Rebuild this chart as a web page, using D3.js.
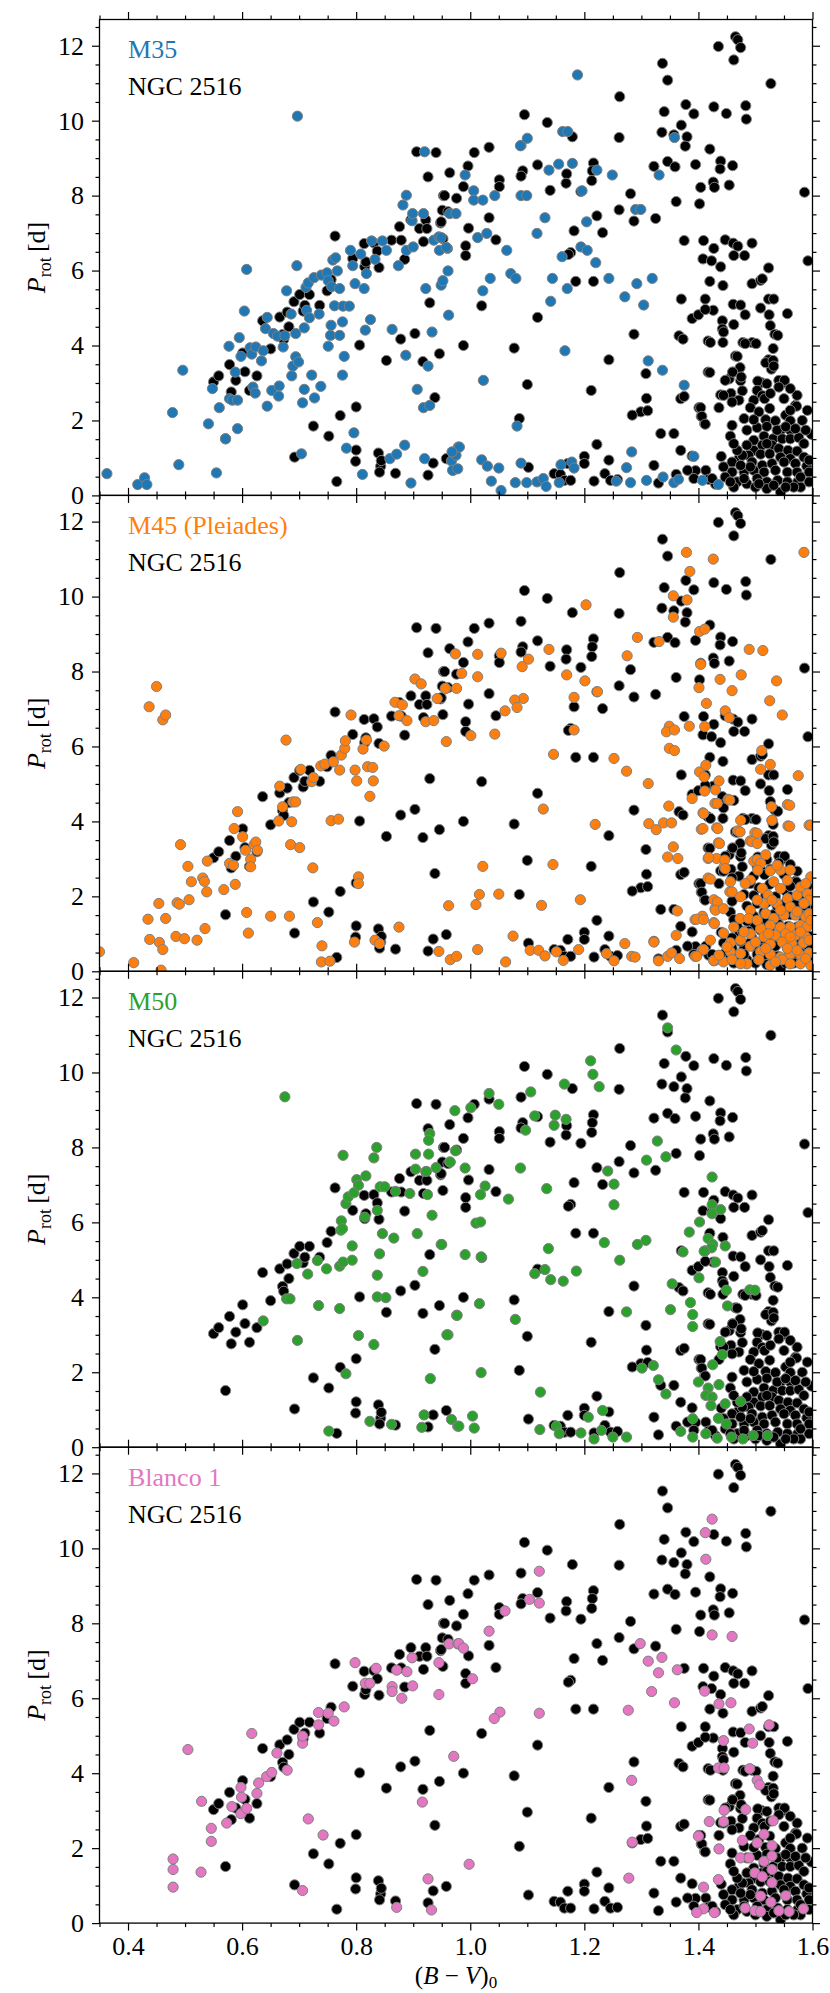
<!DOCTYPE html>
<html>
<head>
<meta charset="utf-8">
<script src="https://cdn.jsdelivr.net/npm/d3@7"></script>
<style>
  body { margin: 0; background: #fff; }
  text { font-family: "Liberation Serif", "DejaVu Serif", serif; }
</style>
</head>
<body>
<div id="chart"></div>
<script>
// Rotation periods vs colour, NGC 2516 compared with four other clusters

const bvTicks = [0.4, 0.6, 0.8, 1.0, 1.2, 1.4, 1.6];
const pTicks = [0, 2, 4, 6, 8, 10, 12];

// NGC 2516: [(B-V)0, Prot]
const ngc2516 = [
  [0.55,3.03],[0.559,3.19],[0.571,1.51],[0.578,3.49],[0.581,2.76],[0.589,3.07],[0.601,3.8],[0.605,3.3],[0.613,2.8],[0.626,3.19],
  [0.636,4.66],[0.65,3.91],[0.666,4.76],[0.671,4.29],[0.673,4.16],[0.682,4.5],[0.679,4.89],[0.692,1.02],[0.691,5.17],[0.701,5.36],
  [0.707,4.92],[0.71,5.07],[0.718,5.36],[0.725,1.85],[0.736,5.07],[0.749,5.46],[0.752,1.58],[0.756,5.76],[0.763,6.92],[0.766,0.37],
  [0.772,2.13],[0.794,6.32],[0.8,2.36],[0.8,1.21],[0.799,0.91],[0.806,4.01],[0.814,6.72],[0.815,6.1],[0.817,6.23],[0.831,6.74],
  [0.837,6.52],[0.84,6.08],[0.839,1.13],[0.843,0.78],[0.841,0.62],[0.844,0.93],[0.853,3.6],[0.862,6.81],[0.869,0.59],[0.876,7.17],
  [0.878,4.17],[0.885,6.3],[0.879,6.81],[0.896,7.35],[0.906,9.17],[0.903,4.32],[0.911,7.12],[0.917,3.57],[0.918,6.77],[0.922,7.35],
  [0.924,7.12],[0.926,8.5],[0.938,2.61],[0.926,0.54],[0.935,0.86],[0.929,5.14],[0.94,9.15],[0.946,3.78],[0.948,7.27],[0.952,6.85],
  [0.953,8.0],[0.958,0.98],[0.964,8.61],[0.951,7.61],[0.961,7.57],[0.976,7.93],
  [1.007,9.15],[0.996,8.79],[0.988,8.24],[0.955,8.0],[0.949,7.3],[0.997,7.13],[0.992,6.66],[0.992,6.4],[0.988,4.0],[1.033,9.29],
  [1.033,7.41],[1.045,6.82],[1.051,8.42],[1.051,8.24],[1.02,5.06],[1.089,9.34],[1.095,10.16],[1.092,8.66],[1.089,8.52],[1.135,9.95],
  [1.14,8.14],[1.118,8.82],[1.118,4.75],[1.1,2.96],[1.077,3.93],[1.086,2.05],[1.102,0.75],[1.179,9.57],[1.169,8.58],[1.168,8.33],
  [1.194,8.11],[1.182,7.06],[1.176,6.48],[1.172,6.43],[1.185,5.71],[1.216,8.87],[1.214,8.66],[1.213,8.4],[1.216,5.71],[1.212,2.8],
  [1.222,1.36],[1.262,10.64],[1.261,9.55],[1.261,7.62],[1.281,8.05],[1.222,7.46],[1.232,7.01],[1.243,3.62],[1.287,4.3],[1.308,3.25],
  [1.309,2.59],[1.299,2.23],[1.311,2.26],[1.284,2.14],[1.322,8.78],[1.325,7.39],[1.287,7.32],[1.337,11.53],[1.346,11.08],[1.34,10.24],
  [1.336,9.69],[1.357,9.62],[1.37,9.88],[1.378,10.43],[1.392,10.18],[1.38,9.57],[1.377,9.32],[1.346,8.91],[1.359,8.77],[1.395,8.83],
  [1.42,9.24],[1.361,7.84],[1.402,7.78],[1.404,8.22],[1.426,8.36],[1.428,8.22],[1.427,10.37],[1.435,11.98],[1.465,12.24],[1.469,12.16],
  [1.474,11.95],[1.462,11.62],[1.449,10.19],[1.483,10.4],[1.484,10.04],[1.527,10.99],[1.439,8.92],[1.438,8.71],[1.46,8.8],[1.454,8.28],
  [1.586,8.09],[1.592,6.26],
  [1.334,1.65],[1.357,1.65],[1.322,0.8],[1.33,0.33],[1.361,0.56],[1.369,1.2],[1.369,2.58],[1.375,2.64],[1.401,2.34],[1.405,2.11],
  [1.411,1.91],[1.389,1.05],[1.395,0.66],[1.413,0.67],[1.147,0.58],[1.158,0.56],[1.165,0.4],[1.176,0.4],[1.171,0.85],[1.2,1.04],
  [1.2,0.85],[1.217,0.38],[1.236,0.58],[1.243,0.94],[1.246,0.4],[1.258,0.42],[1.381,0.67],[1.418,0.43],[1.43,0.3],
  [1.375,6.8],[1.409,6.8],[1.427,6.59],[1.447,6.82],[1.461,6.73],[1.469,6.65],[1.481,6.4],[1.494,6.73],[1.408,6.31],[1.423,6.26],
  [1.439,6.1],[1.462,6.4],[1.443,5.6],[1.42,5.71],[1.494,5.65],[1.509,5.74],[1.512,5.78],[1.523,6.07],[1.37,5.24],[1.412,5.24],
  [1.426,4.94],[1.461,5.1],[1.474,5.08],[1.389,4.72],[1.4,4.82],[1.412,4.96],[1.442,4.66],[1.462,4.56],[1.482,4.82],[1.509,5.0],
  [1.523,5.24],[1.532,5.24],[1.556,4.85],[1.524,4.82],[1.526,4.53],[1.534,4.3],[1.366,4.26],[1.373,4.17],[1.417,4.12],[1.442,4.44],
  [1.465,3.72],[1.478,4.08],[1.494,4.08],[1.523,3.62],[1.528,3.37],[1.417,3.29],[1.46,3.29],[1.454,3.11],[1.439,2.68],[1.474,3.06],
  [1.51,3.01],[1.55,3.01],[1.57,2.4],
  [1.444,4.36],[1.539,4.27],[1.421,4.08],[1.443,4.08],[1.482,4.05],[1.501,4.05],[1.531,3.92],[1.468,3.71],[1.518,3.54],[1.531,3.6],
  [1.473,3.41],[1.42,3.28],[1.532,3.45],[1.46,3.29],[1.475,3.16],[1.447,3.07],[1.504,3.05],[1.52,2.98],[1.541,3.07],[1.551,3.07],
  [1.541,2.89],[1.477,2.79],[1.457,2.72],[1.503,2.8],[1.512,2.66],[1.444,2.67],[1.471,2.54],[1.436,2.34],[1.459,2.49],[1.497,2.54],
  [1.516,2.58],[1.491,2.34],[1.506,2.23],[1.525,2.32],[1.404,2.34],[1.572,2.38],[1.406,2.11],[1.412,1.9],[1.459,1.87],[1.456,1.58],
  [1.553,2.14],[1.518,2.02],[1.535,1.99],[1.561,1.99],[1.503,1.81],[1.52,1.84],[1.544,1.74],[1.561,1.74],[1.598,1.63],[1.497,1.47],
  [1.515,1.58],[1.531,1.51],[1.547,1.51],[1.561,1.51],[1.576,1.54],[1.497,1.2],[1.512,1.34],[1.529,1.34],[1.541,1.25],[1.557,1.2],
  [1.573,1.18],[1.488,1.07],[1.509,1.1],[1.525,1.11],[1.544,1.02],[1.561,0.98],[1.585,1.02],[1.44,1.04],[1.471,0.98],[1.477,1.07],
  [1.459,0.89],[1.444,0.76],[1.494,0.89],[1.512,0.8],[1.529,0.85],[1.55,0.89],[1.57,0.85],[1.59,0.78],[1.459,0.62],[1.48,0.62],
  [1.497,0.67],[1.515,0.62],[1.535,0.67],[1.556,0.62],[1.573,0.62],[1.594,0.62],[1.447,0.49],[1.468,0.36],[1.485,0.31],[1.503,0.45],
  [1.52,0.36],[1.539,0.4],[1.556,0.36],[1.574,0.36],[1.594,0.36],[1.52,0.18],[1.544,0.09],[1.392,0.45],[1.424,0.45],[1.462,0.22],
  [1.5,0.22],[1.579,0.22],
  [1.485,1.74],[1.48,2.05],[1.485,1.34],[1.497,2.02],[1.526,2.72],[1.55,2.58],[1.561,2.27],[1.582,2.0],[1.585,1.38],[1.594,0.94],
  [1.579,0.49],[1.567,0.22],[1.553,0.22],[1.532,0.27],[1.506,0.31],[1.48,0.45],[1.456,0.36],[1.491,0.76],[1.474,0.8],[1.468,1.2],
  [1.462,1.38],[1.52,1.38],[1.538,1.74],[1.553,1.83],[1.57,1.78],[1.588,1.74],[1.591,2.27],[1.573,2.67],[1.561,2.85]
];

const m35 = [
  [0.363,0.58],[0.417,0.29],[0.429,0.47],[0.433,0.29],[0.478,2.21],[0.489,0.82],[0.496,3.34],[0.541,1.91],[0.548,2.85],[0.555,0.6],
  [0.56,2.34],[0.571,1.51],[0.577,3.98],[0.578,2.58],[0.583,2.54],[0.588,3.29],[0.592,2.54],[0.592,1.78],[0.595,4.21],[0.598,3.71],
  [0.604,4.92],[0.608,6.03],[0.614,3.94],[0.617,3.77],[0.619,2.89],[0.623,2.73],[0.624,3.96],[0.634,3.59],[0.637,3.86],[0.644,4.75],
  [0.641,4.45],[0.644,2.38],[0.652,2.8],[0.655,4.32],[0.662,4.25],[0.665,2.92],[0.664,2.65],[0.672,3.96],[0.675,4.26],[0.678,5.46],
  [0.686,4.84],[0.687,3.19],[0.689,3.45],[0.694,4.32],[0.694,3.7],[0.696,6.13],[0.697,10.12],[0.699,3.56],[0.704,1.11],[0.706,2.47],
  [0.709,2.83],[0.709,4.47],[0.712,5.55],[0.713,4.94],[0.716,5.67],[0.718,4.74],[0.722,3.21],[0.726,5.81],[0.727,2.6],[0.735,4.84],
  [0.738,2.91],[0.739,5.88],[0.749,5.94],[0.751,3.98],[0.751,5.73],[0.755,4.27],[0.756,4.54],[0.757,5.57],[0.759,6.28],[0.762,5.06],
  [0.764,6.34],[0.767,5.99],[0.771,4.27],[0.771,5.52],[0.776,3.21],[0.776,4.63],[0.777,5.05],[0.779,3.71],[0.783,1.26],[0.788,5.05],
  [0.79,6.54],[0.794,6.13],[0.796,1.67],[0.798,5.65],[0.808,6.44],[0.811,0.56],[0.814,5.52],[0.816,4.41],[0.818,5.92],[0.825,4.69],
  [0.827,6.79],[0.833,6.3],[0.846,6.79],[0.853,6.54],[0.859,0.98],[0.863,4.43],[0.871,1.1],[0.874,6.13],[0.882,7.75],[0.885,1.34],
  [0.888,8.01],[0.888,6.54],[0.887,3.74],[0.896,0.33],[0.898,7.33],[0.899,7.52],[0.9,6.63],[0.907,2.83],[0.918,7.52],[0.92,9.17],
  [0.92,0.98],[0.918,2.34],[0.922,5.52],[0.926,3.45],[0.929,2.4],[0.933,4.36],[0.936,6.81],[0.945,6.9],[0.946,6.54],[0.949,5.61],
  [0.952,5.73],[0.96,6.59],[0.961,5.99],[0.962,4.81],[0.964,7.52],[0.975,7.52],[0.967,0.92],[0.97,0.67],[0.973,1.16],[0.979,1.29],
  [0.975,1.07],
  [1.188,11.22],[1.358,9.55],[1.162,9.71],[1.171,9.71],[1.1,9.53],[1.088,9.33],[0.991,8.55],[1.138,8.68],[1.155,8.84],[1.179,8.86],
  [1.222,8.68],[1.249,8.55],[1.331,8.55],[1.006,8.13],[1.006,7.88],[1.022,7.88],[1.043,8.0],[1.089,8.0],[1.099,8.0],[1.196,8.13],
  [1.29,7.63],[1.299,7.63],[1.131,7.41],[1.204,7.3],[1.117,6.99],[1.013,6.88],[1.029,6.99],[1.064,6.54],[0.949,6.88],[0.958,6.62],
  [1.161,6.37],[1.194,6.63],[1.205,6.54],[1.22,6.21],[1.071,5.92],[1.08,5.79],[1.035,5.79],[1.022,5.46],[1.144,5.79],[1.17,5.52],
  [1.141,5.18],[1.243,5.79],[1.292,5.65],[1.319,5.79],[1.271,5.3],[1.304,5.08],[1.166,3.86],[1.312,3.59],[1.337,3.34],[1.375,2.94],
  [1.023,3.07],[1.082,1.85],[1.283,1.16],[1.392,1.04],[0.981,1.29],[0.968,1.16],[0.969,0.67],[0.978,0.71],[1.02,0.95],[1.03,0.78],
  [1.05,0.73],[1.037,0.38],[1.054,0.13],[1.079,0.34],[1.099,0.34],[1.117,0.36],[1.128,0.45],[1.133,0.24],[1.089,0.86],[1.159,0.82],
  [1.156,0.34],[1.178,0.89],[1.182,0.73],[1.256,0.38],[1.274,0.74],[1.281,0.34],[1.309,0.4],[1.338,0.49],[1.357,0.34],[1.365,0.43],
  [1.407,0.4],[1.435,0.29]
];

const m45 = [
  [0.35,0.52],[0.41,0.23],[0.435,1.39],[0.437,7.06],[0.438,0.85],[0.45,7.6],[0.454,1.81],[0.455,0.77],[0.458,0.03],[0.461,0.58],
  [0.461,6.71],[0.466,6.84],[0.466,1.41],[0.484,0.93],[0.486,1.83],[0.49,1.79],[0.492,3.38],[0.499,0.87],[0.505,2.8],[0.507,1.91],
  [0.511,2.39],[0.521,0.83],[0.531,2.49],[0.534,2.4],[0.535,1.14],[0.538,2.12],[0.539,2.94],[0.568,2.18],[0.578,2.88],[0.585,2.83],
  [0.586,3.81],[0.588,2.32],[0.592,4.26],[0.601,3.59],[0.606,3.23],[0.608,1.57],[0.611,1.02],[0.615,2.99],[0.615,2.79],[0.621,3.38],
  [0.624,3.45],[0.627,3.23],[0.65,1.47],[0.664,4.01],[0.666,4.94],[0.671,4.39],[0.677,6.17],[0.683,1.47],[0.685,3.38],[0.687,3.99],
  [0.689,4.52],[0.694,4.52],[0.701,3.3],[0.703,5.39],[0.722,5.06],[0.724,2.76],[0.725,5.17],[0.732,1.3],[0.738,5.48],[0.74,0.68],
  [0.739,0.25],[0.745,5.53],[0.754,0.27],[0.756,4.02],[0.76,5.59],[0.769,4.06],[0.771,5.37],[0.774,5.77],[0.78,5.95],[0.781,6.15],
  [0.791,6.84],[0.797,0.78],[0.798,5.37],[0.801,5.08],[0.804,2.52],[0.804,2.34],[0.812,5.93],[0.818,6.17],[0.82,5.46],[0.824,4.67],
  [0.829,5.44],[0.83,5.08],[0.833,0.83],[0.841,0.74],[0.849,6.01],[0.868,7.18],[0.875,6.82],[0.875,1.18],[0.881,7.11],[0.889,6.69],
  [0.903,7.8],[0.914,7.67],[0.922,6.66],[0.936,6.69],[0.942,7.28],[0.945,0.53],[0.958,6.13],[0.962,1.75],[0.957,7.55],[0.974,8.47],
  [0.976,7.55],[0.965,0.31],[0.976,0.4],
  [1.585,11.18],[1.379,11.18],[1.426,11.0],[1.385,10.67],[1.356,10.02],[1.38,9.91],[1.356,9.45],[1.203,9.78],[1.402,9.07],[1.411,9.13],
  [1.293,8.91],[1.331,8.8],[1.489,8.59],[1.513,8.56],[1.013,8.46],[1.054,8.49],[1.138,8.59],[1.275,8.42],[1.102,8.33],[1.091,8.13],
  [1.404,8.19],[0.985,7.95],[1.013,7.86],[1.169,7.91],[1.201,7.75],[1.438,7.79],[1.475,7.91],[1.537,7.75],[0.956,7.55],[1.401,7.57],
  [1.459,7.49],[1.223,7.46],[1.182,7.31],[1.093,7.28],[1.078,7.24],[1.082,7.04],[1.061,6.95],[1.525,7.22],[1.414,7.15],[1.447,6.95],
  [1.454,6.77],[1.547,6.84],[1.043,6.33],[1.001,6.29],[1.182,6.44],[1.349,6.54],[1.344,6.39],[1.358,6.44],[1.384,6.54],[1.411,6.53],
  [1.349,5.95],[1.358,5.89],[1.146,5.79],[1.252,5.68],[1.274,5.34],[1.312,5.01],[1.575,5.22],[1.511,5.89],[1.509,5.39],[1.526,5.52],
  [1.402,5.32],[1.413,5.5],[1.41,5.19],[1.436,5.08],[1.411,4.81],[1.43,4.84],[1.452,4.59],[1.389,4.61],[1.429,4.48],[1.556,4.45],
  [1.348,4.41],[1.408,4.23],[1.128,4.33],[1.529,4.03],[1.528,4.39],[1.557,3.88],[1.594,3.9],[1.219,3.92],[1.313,3.94],[1.326,3.78],
  [1.339,3.96],[1.353,3.96],[1.405,3.79],[1.432,3.83],[1.469,3.75],[1.499,3.7],[1.491,3.48],[1.435,3.43],[1.356,3.32],[1.346,3.05],
  [1.364,3.01],[1.417,3.01],[1.022,2.8],[1.145,2.85],[1.445,2.79],[1.417,2.49],[1.497,2.94],[1.016,2.05],[1.05,2.06],[1.01,1.78],
  [1.125,1.76],[1.193,1.91],[1.455,2.12],[1.363,1.61],[1.394,1.38],[1.407,1.47],[1.427,1.3],[1.427,1.91],[1.429,1.67],[1.361,0.96],
  [1.075,0.94],[1.013,0.58],[1.062,0.25],[1.105,0.56],[1.12,0.56],[1.131,0.41],[1.151,0.52],[1.163,0.29],[1.19,0.58],[1.239,0.47],
  [1.252,0.28],[1.271,0.74],[1.283,0.4],[1.289,0.38],[1.322,0.78],[1.33,0.28],[1.346,0.4],[1.353,0.49],[1.367,0.34],[1.394,0.4],
  [1.406,0.56],[1.427,0.28],
  [1.433,4.48],[1.455,4.57],[1.56,4.43],[1.409,4.21],[1.529,4.03],[1.56,3.87],[1.597,3.9],[1.408,3.81],[1.434,3.81],[1.473,3.72],
  [1.503,3.68],[1.494,3.46],[1.437,3.41],[1.432,3.01],[1.418,3.04],[1.446,2.97],[1.503,2.98],[1.509,2.88],[1.447,2.74],[1.526,2.68],
  [1.544,2.7],[1.504,2.7],[1.421,2.46],[1.491,2.43],[1.532,2.39],[1.556,2.43],[1.459,2.12],[1.482,2.34],[1.512,2.21],[1.544,2.21],
  [1.522,2.03],[1.556,1.94],[1.573,2.03],[1.591,2.07],[1.594,1.9],[1.433,1.85],[1.43,1.63],[1.444,1.67],[1.491,1.63],[1.515,1.81],
  [1.538,1.81],[1.561,1.72],[1.585,1.81],[1.397,1.39],[1.409,1.38],[1.473,1.41],[1.488,1.41],[1.518,1.54],[1.532,1.41],[1.55,1.5],
  [1.57,1.5],[1.588,1.45],[1.428,1.27],[1.509,1.14],[1.526,1.23],[1.544,1.18],[1.561,1.18],[1.579,1.23],[1.591,1.2],[1.444,1.02],
  [1.491,1.0],[1.515,0.92],[1.535,0.96],[1.553,1.0],[1.57,0.96],[1.588,0.92],[1.456,0.76],[1.474,0.83],[1.491,0.67],[1.526,0.72],
  [1.547,0.78],[1.564,0.74],[1.584,0.76],[1.409,0.58],[1.456,0.52],[1.474,0.47],[1.509,0.52],[1.526,0.45],[1.544,0.38],[1.561,0.45],
  [1.579,0.43],[1.594,0.49],[1.397,0.4],[1.427,0.29],[1.444,0.25],[1.485,0.2],[1.526,0.16],[1.547,0.31],[1.579,0.2],[1.597,0.16],
  [1.506,0.31],[1.459,0.31],[1.594,1.54],[1.594,0.83],
  [1.474,4.03],[1.503,3.41],[1.518,3.11],[1.538,2.83],[1.561,2.7],[1.579,2.25],[1.456,2.39],[1.474,1.99],[1.503,1.9],[1.529,1.9],
  [1.544,1.63],[1.573,1.59],[1.503,1.36],[1.523,1.0],[1.561,0.92],[1.48,1.05],[1.462,1.18],[1.45,0.65],[1.5,0.78],[1.518,0.61],
  [1.556,0.61],[1.573,0.56],[1.588,0.34],[1.535,0.25],[1.561,0.2],[1.474,0.2],[1.421,0.83],[1.436,0.43],[1.597,2.52],[1.588,2.34],
  [1.597,1.36],[1.579,1.05]
];

const m50 = [
  [0.675,9.35],[0.637,3.37],[0.678,3.96],[0.684,3.96],[0.696,4.9],[0.697,2.85],[0.715,4.62],[0.732,4.98],[0.734,3.78],[0.748,4.76],
  [0.752,0.43],[0.771,4.83],[0.777,4.94],[0.771,3.7],[0.773,5.79],[0.774,6.04],[0.776,5.83],[0.777,7.79],[0.782,6.5],[0.782,1.96],
  [0.786,6.68],[0.793,4.99],[0.793,5.37],[0.796,6.79],[0.801,7.14],[0.804,6.99],[0.804,2.98],[0.815,6.14],[0.817,7.24],[0.824,0.69],
  [0.831,7.72],[0.831,2.74],[0.836,8.0],[0.837,6.32],[0.837,4.59],[0.837,4.01],[0.842,6.95],[0.846,5.7],[0.841,5.16],[0.85,6.95],
  [0.852,3.99],[0.862,0.61],[0.866,5.58],[0.869,6.83],[0.894,6.77],[0.904,7.82],[0.904,7.42],[0.907,5.7],[0.915,0.53],[0.917,4.69],
  [0.919,0.86],[0.923,7.36],[0.925,6.74],[0.927,7.82],[0.929,8.37],[0.927,8.19],[0.93,1.83],[0.933,6.19],[0.94,7.46],[0.949,5.41],
  [0.961,3.0],[0.964,7.61],[0.967,0.74],[0.973,8.98],[0.974,7.91],[0.976,3.52],[0.978,0.56],
  [1.346,11.19],[1.361,10.6],[1.211,10.31],[1.215,9.95],[1.226,9.62],[1.165,9.69],[1.033,9.44],[1.106,9.48],[1.05,9.15],[1.001,9.06],
  [1.113,8.84],[1.149,8.86],[1.147,8.59],[1.168,8.75],[1.097,8.46],[1.328,8.17],[0.965,7.61],[1.309,7.66],[1.343,7.75],[1.088,7.45],
  [0.991,7.45],[1.241,7.37],[1.424,7.21],[1.252,7.02],[1.134,6.9],[1.026,6.97],[1.018,6.74],[1.067,6.62],[1.252,6.47],[1.424,6.47],
  [1.424,6.23],[1.439,6.34],[1.01,5.98],[1.018,6.01],[1.402,6.01],[1.384,5.74],[0.95,5.41],[0.991,5.14],[1.019,5.08],[1.137,5.3],
  [1.235,5.46],[1.293,5.41],[1.308,5.52],[1.417,5.57],[1.425,5.41],[1.423,5.32],[1.447,5.37],[1.373,5.21],[1.41,5.23],[1.43,4.94],
  [1.262,4.99],[1.113,4.63],[1.131,4.74],[1.141,4.47],[1.163,4.43],[1.186,4.7],[1.401,4.52],[1.354,4.36],[1.449,4.19],[1.49,4.2],
  [1.499,4.19],[1.451,3.77],[1.386,3.86],[1.016,3.83],[1.351,3.67],[1.39,3.54],[1.274,3.61],[0.977,3.52],[1.079,3.41],[1.39,3.22],
  [0.959,3.0],[1.438,2.82],[1.442,2.47],[1.321,2.18],[1.301,2.11],[1.019,1.99],[1.425,2.2],[1.33,1.8],[1.343,1.42],[1.4,1.74],
  [1.417,1.58],[1.436,1.67],[1.413,1.38],[1.424,1.34],[1.422,1.11],[1.447,1.16],[1.474,1.22],[1.123,1.47],[1.232,0.98],[1.207,0.8],
  [0.98,0.56],[1.004,0.83],[1.007,0.51],[1.122,0.47],[1.151,0.56],[1.156,0.36],[1.194,0.38],[1.217,0.22],[1.23,0.45],[1.25,0.27],
  [1.274,0.27],[1.369,0.42],[1.39,0.27],[1.39,0.76],[1.413,0.36],[1.433,0.24],[1.435,0.77],[1.449,0.62],[1.458,0.27],[1.478,0.22],
  [1.496,0.31],[1.521,0.31]
];

const blanco1 = [
  [0.479,1.71],[0.479,1.43],[0.479,0.96],[0.505,4.63],[0.528,1.36],[0.529,3.25],[0.546,2.53],[0.546,2.18],[0.573,2.67],[0.582,3.11],
  [0.598,3.62],[0.599,3.36],[0.598,2.92],[0.608,3.06],[0.617,5.06],[0.626,3.46],[0.629,3.74],[0.643,3.91],[0.652,4.02],[0.661,4.54],
  [0.679,4.08],[0.706,4.8],[0.706,4.99],[0.706,0.87],[0.716,2.78],[0.734,5.62],[0.734,5.29],[0.742,2.35],[0.751,5.6],[0.761,5.39],
  [0.779,5.77],[0.798,6.95],[0.816,6.4],[0.824,6.4],[0.835,6.8],[0.863,6.31],[0.863,6.18],[0.871,6.75],[0.871,0.42],[0.88,6.0],
  [0.889,6.71],[0.898,7.08],[0.899,6.33],[0.916,3.23],[0.926,1.18],[0.932,0.35],[0.945,6.95],[0.945,6.1],[0.963,7.45],[0.978,7.45],
  [0.971,4.45],
  [1.424,10.78],[1.412,10.42],[1.413,9.71],[1.121,9.39],[1.104,8.64],[1.121,8.54],[1.061,8.33],[1.033,7.79],[1.424,7.69],[1.459,7.65],
  [0.98,7.46],[0.988,7.34],[1.298,7.46],[1.312,6.99],[1.336,7.09],[1.33,6.68],[1.363,6.76],[1.318,6.18],[1.358,5.88],[1.411,6.19],
  [1.436,5.85],[1.457,5.88],[1.004,6.52],[1.277,5.68],[1.121,5.6],[1.052,5.63],[1.042,5.46],[1.489,5.18],[1.524,5.29],[1.444,4.87],
  [1.495,4.8],[1.435,4.14],[1.445,4.14],[1.49,4.12],[1.503,3.81],[1.507,3.69],[1.283,3.81],[1.445,3.01],[1.483,3.03],[1.419,2.71],
  [1.444,2.71],[1.531,2.73],[1.4,2.32],[1.515,2.37],[1.436,1.98],[1.477,2.21],[1.503,2.14],[1.529,2.07],[1.284,2.16],[1.474,1.74],
  [1.489,1.74],[1.515,1.65],[1.529,1.79],[1.499,1.34],[1.512,1.24],[1.529,1.43],[1.529,1.08],[0.998,1.57],[1.278,1.2],[1.435,1.16],
  [1.409,0.96],[1.509,0.72],[1.553,0.73],[1.527,0.56],[1.409,0.38],[1.397,0.28],[1.428,0.28],[1.482,0.4],[1.499,0.33],[1.509,0.31],
  [1.541,0.33],[1.559,0.31],[1.584,0.38]
];

const clusterNames = ['M35', 'M45 (Pleiades)', 'M50', 'Blanco 1'];
const clusterColors = ['#1f77b4', '#ff7f0e', '#2ca02c', '#e377c2'];
const clusterData = [m35, m45, m50, blanco1];

// layout
const width = 830, height = 1993;
const left = 99.5, right = 812.5;
const firstTop = 19.5, panelH = 475.9;
const markerR = 5.1;

const svg = d3.select('#chart').append('svg')
    .attr('width', width)
    .attr('height', height);

const x = d3.scaleLinear().domain([0.35, 1.6]).range([left, right]);
const xMinor = d3.range(0.35, 1.6001, 0.05).map(v => +v.toFixed(2)).filter(v => !bvTicks.includes(v));
const yMinor = d3.range(0, 12.51, 0.5).filter(v => !pTicks.includes(v));

function styleAxis(g, showLabels) {
    g.select('.domain').remove();
    g.selectAll('line').attr('stroke', '#000').attr('stroke-width', 1.2);
    g.selectAll('text')
        .attr('font-family', '"Liberation Serif", "DejaVu Serif", serif')
        .attr('font-size', 26)
        .attr('fill', '#000');
    if (!showLabels) g.selectAll('text').remove();
}

clusterNames.forEach((name, i) => {
    const top = firstTop + i * panelH;
    const bottom = top + panelH;
    const y = d3.scaleLinear().domain([0, 12.7]).range([bottom, top]);

    const clipId = 'clip' + i;
    svg.append('clipPath').attr('id', clipId)
        .append('rect')
        .attr('x', left).attr('y', top)
        .attr('width', right - left).attr('height', panelH);

    const pts = svg.append('g').attr('clip-path', `url(#${clipId})`);

    pts.append('g').selectAll('circle')
        .data(ngc2516)
        .join('circle')
        .attr('cx', d => x(d[0]))
        .attr('cy', d => y(d[1]))
        .attr('r', markerR)
        .attr('fill', '#000')
        .attr('stroke', '#808080')
        .attr('stroke-width', 1);

    pts.append('g').selectAll('circle')
        .data(clusterData[i])
        .join('circle')
        .attr('cx', d => x(d[0]))
        .attr('cy', d => y(d[1]))
        .attr('r', markerR)
        .attr('fill', clusterColors[i])
        .attr('stroke', '#808080')
        .attr('stroke-width', 1);

    // axes: ticks point outwards on all four sides
    const isLast = i === clusterNames.length - 1;

    svg.append('g').attr('transform', `translate(${left},0)`)
        .call(d3.axisLeft(y).tickValues(pTicks).tickSize(7.5).tickPadding(8).tickFormat(d3.format('d')))
        .call(g => styleAxis(g, true));
    svg.append('g').attr('transform', `translate(${left},0)`)
        .call(d3.axisLeft(y).tickValues(yMinor).tickSize(4).tickFormat(''))
        .call(g => styleAxis(g, false));
    svg.append('g').attr('transform', `translate(${right},0)`)
        .call(d3.axisRight(y).tickValues(pTicks).tickSize(7.5))
        .call(g => styleAxis(g, false));
    svg.append('g').attr('transform', `translate(${right},0)`)
        .call(d3.axisRight(y).tickValues(yMinor).tickSize(4))
        .call(g => styleAxis(g, false));

    svg.append('g').attr('transform', `translate(0,${top})`)
        .call(d3.axisTop(x).tickValues(bvTicks).tickSize(7.5))
        .call(g => styleAxis(g, false));
    svg.append('g').attr('transform', `translate(0,${top})`)
        .call(d3.axisTop(x).tickValues(xMinor).tickSize(4))
        .call(g => styleAxis(g, false));
    svg.append('g').attr('transform', `translate(0,${bottom})`)
        .call(d3.axisBottom(x).tickValues(bvTicks).tickSize(7.5).tickPadding(6).tickFormat(d3.format('.1f')))
        .call(g => styleAxis(g, isLast));
    svg.append('g').attr('transform', `translate(0,${bottom})`)
        .call(d3.axisBottom(x).tickValues(xMinor).tickSize(4))
        .call(g => styleAxis(g, false));

    svg.append('rect')
        .attr('x', left).attr('y', top)
        .attr('width', right - left).attr('height', panelH)
        .attr('fill', 'none')
        .attr('stroke', '#000')
        .attr('stroke-width', 1.3);

    // cluster labels
    svg.append('text')
        .attr('x', x(0.4)).attr('y', top + 38.5)
        .attr('font-size', 26)
        .attr('fill', clusterColors[i])
        .text(name);
    svg.append('text')
        .attr('x', x(0.4)).attr('y', top + 75.5)
        .attr('font-size', 26)
        .attr('fill', '#000')
        .text('NGC 2516');

    // y label
    const yl = svg.append('text')
        .attr('transform', `translate(45,${top + panelH / 2}) rotate(-90)`)
        .attr('text-anchor', 'middle')
        .attr('font-size', 26)
        .attr('fill', '#000');
    yl.append('tspan').attr('font-style', 'italic').text('P');
    yl.append('tspan').attr('font-size', 18).attr('dy', 6).text('rot');
    yl.append('tspan').attr('dy', -6).text('\u2009[d]');
});

// x label
const xl = svg.append('text')
    .attr('x', (left + right) / 2)
    .attr('y', 1984)
    .attr('text-anchor', 'middle')
    .attr('font-size', 25)
    .attr('fill', '#000');
xl.append('tspan').text('(');
xl.append('tspan').attr('font-style', 'italic').text('B');
xl.append('tspan').text(' \u2212 ');
xl.append('tspan').attr('font-style', 'italic').text('V');
xl.append('tspan').text(')');
xl.append('tspan').attr('font-size', 17).attr('dy', 4).text('0');
</script>
</body>
</html>
